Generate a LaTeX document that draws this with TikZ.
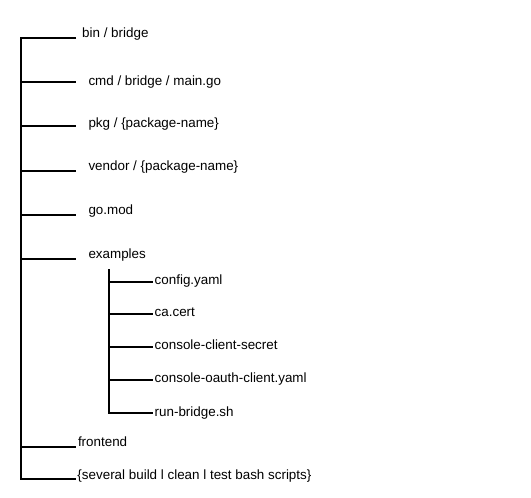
\documentclass[tikz,border=0pt]{standalone}
\usepackage{fontspec}
\setmainfont{Liberation Sans}
\begin{document}
\begin{tikzpicture}[x=1pt,y=-1pt,
  lbl/.style={anchor=base west,inner sep=0pt,font=\fontsize{13.4}{15}\selectfont,text=black},
  tree/.style={line width=2pt,black,line join=miter,line cap=butt}]
\useasboundingbox (0,0) rectangle (531,498);
% main items
\node[lbl] (bin) at (82,37.4) {bin / bridge};
\node[lbl] (cmd) at (88.3,85) {cmd / bridge / main.go};
\node[lbl] (pkg) at (88.3,127.5) {pkg / \{package-name\}};
\node[lbl] (vendor) at (88.3,170.2) {vendor / \{package-name\}};
\node[lbl] (gomod) at (88.3,214.3) {go.mod};
\node[lbl] (examples) at (88.3,258.3) {examples};
\node[lbl] (frontend) at (77.8,446) {frontend};
\node[lbl] (scripts) at (77.3,479) {\{several build l clean l test bash scripts\}};
% sub items
\node[lbl] (config) at (154.5,284.7) {config.yaml};
\node[lbl] (cacert) at (154.5,316.7) {ca.cert};
\node[lbl] (secret) at (154.5,349.4) {console-client-secret};
\node[lbl] (oauth) at (154.5,382.7) {console-oauth-client.yaml};
\node[lbl] (run) at (154.5,416) {run-bridge.sh};
% main trunk coordinates
\coordinate (tBin) at (21,38);
\coordinate (eBin) at (76,38);
\coordinate (tCmd) at (21,82);
\coordinate (eCmd) at (76,82);
\coordinate (tPkg) at (21,126);
\coordinate (ePkg) at (76,126);
\coordinate (tVendor) at (21,171);
\coordinate (eVendor) at (76,171);
\coordinate (tGomod) at (21,215);
\coordinate (eGomod) at (76,215);
\coordinate (tExamples) at (21,259);
\coordinate (eExamples) at (76,259);
\coordinate (tFrontend) at (21,447);
\coordinate (eFrontend) at (76,447);
\coordinate (tScripts) at (21,479);
\coordinate (eScripts) at (76,479);
% sub trunk coordinates
\coordinate (sTop) at (109,269);
\coordinate (sConfig) at (109,282);
\coordinate (sCacert) at (109,314);
\coordinate (sSecret) at (109,347);
\coordinate (sOauth) at (109,380);
\coordinate (sRun) at (109,413);
\coordinate (xEnd) at (153,0);
% main tree
\draw[tree] (eBin) -- (tBin) -- (tScripts) -- (eScripts);
\foreach \n in {Cmd,Pkg,Vendor,Gomod,Examples,Frontend}
  \draw[tree] (t\n) -- (e\n);
% sub tree
\draw[tree] (sTop) -- (sRun) -- (xEnd |- sRun);
\foreach \s in {Config,Cacert,Secret,Oauth}
  \draw[tree] (s\s) -- (xEnd |- s\s);
\end{tikzpicture}
\end{document}
